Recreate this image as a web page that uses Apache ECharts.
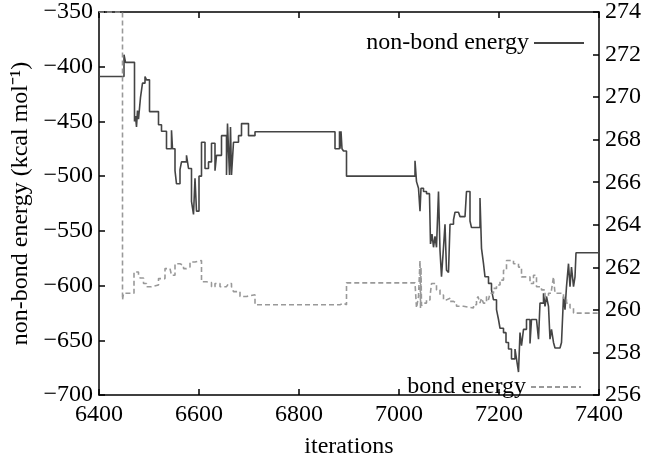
<!DOCTYPE html>
<html>
<head>
<meta charset="utf-8">
<script src="https://cdn.jsdelivr.net/npm/echarts@6/dist/echarts.min.js"></script>
<style>
  html, body { margin: 0; padding: 0; background: #fff; }
  #canvas { width: 646px; height: 464px; }
</style>
</head>
<body>
<div id="canvas"></div>
<script>
// iterations where the non-bond energy changes, and the value it takes
let nonBondIter = [6400, 6450, 6453, 6471, 6473, 6475, 6477, 6479, 6483, 6487, 6492, 6495, 6501, 6519, 6525, 6535, 6545, 6547,
    6552, 6555, 6562, 6565, 6575, 6579, 6585, 6589, 6592, 6595, 6600, 6605, 6612, 6619, 6625, 6632, 6635, 6645, 6655, 6657,
    6659, 6661, 6663, 6665, 6669, 6679, 6685, 6699, 6712, 6872, 6881, 6882, 6884, 6886, 6889, 6895, 7032, 7035, 7039, 7042,
    7044, 7049, 7055, 7061, 7063, 7066, 7069, 7072, 7075, 7079, 7082, 7085, 7089, 7092, 7095, 7099, 7102, 7109, 7112, 7119,
    7122, 7132, 7135, 7142, 7145, 7162, 7165, 7169, 7172, 7179, 7185, 7189, 7195, 7199, 7202, 7209, 7214, 7219, 7225, 7232,
    7235, 7239, 7242, 7245, 7249, 7255, 7262, 7265, 7275, 7279, 7282, 7289, 7292, 7295, 7299, 7302, 7305, 7309, 7312, 7322,
    7325, 7329, 7332, 7335, 7339, 7342, 7345, 7349, 7352, 7354, 7400];
let nonBondValue = [-409, -389, -396, -450, -445, -455, -440, -448, -428, -415, -409, -412, -441, -453, -459, -475, -458, -475,
    -495, -507, -494, -487, -481, -493, -523, -535, -502, -532, -500, -469, -493, -487, -470, -495, -481, -463, -499, -452,
    -451, -499, -455, -499, -469, -463, -452, -463, -459.5, -475, -459, -475, -459, -475, -477, -500, -486, -505, -511, -532,
    -511, -514, -516, -518, -562, -553, -565, -555, -565, -514, -568, -592, -565, -544, -586, -588, -544, -540, -533, -532,
    -537, -538, -514, -541, -547, -520, -566, -580, -592, -598, -604, -613, -622, -631, -639, -643, -652, -658, -667, -658,
    -667, -679, -643, -655, -640, -631, -653, -631, -631, -649, -616, -607, -619, -610, -619, -649, -640, -652, -657, -658,
    -652, -610, -622, -601, -580, -601, -583, -601, -592, -570, -570];

// iterations where the bond energy changes, and the value it takes
let bondIter = [6400, 6447, 6449, 6470, 6479, 6482, 6489, 6495, 6505, 6519, 6532, 6542, 6545, 6552, 6562, 6569, 6575, 6582,
    6592, 6605, 6615, 6625, 6632, 6642, 6655, 6659, 6665, 6669, 6682, 6695, 6712, 6882, 6885, 6889, 6895, 7032, 7035, 7039,
    7042, 7043, 7044, 7045, 7049, 7055, 7062, 7065, 7075, 7082, 7089, 7095, 7102, 7109, 7115, 7129, 7149, 7155, 7158, 7162,
    7165, 7169, 7175, 7179, 7182, 7189, 7195, 7202, 7209, 7215, 7229, 7239, 7245, 7262, 7269, 7275, 7285, 7292, 7299, 7305,
    7309, 7312, 7329, 7335, 7342, 7349, 7400];
let bondValue = [274, 260.47, 260.78, 261.78, 261.63, 261.5, 261.24, 261.09, 261.17, 261.47, 261.94, 261.94, 261.63, 262.17,
    262.09, 261.94, 262.01, 262.25, 262.32, 261.32, 261.28, 261.09, 261.24, 261.09, 261.06, 261.24, 261.09, 260.86, 260.63,
    260.71, 260.24, 260.24, 260.32, 260.24, 261.27, 261.27, 260.09, 260.63, 262.32, 260.09, 262.0, 260.2, 260.32, 260.47,
    260.63, 261.24, 260.94, 260.7, 260.47, 260.55, 260.4, 260.32, 260.17, 260.09, 260.24, 260.47, 260.63, 260.32, 260.55,
    260.32, 260.63, 260.47, 260.78, 261.01, 261.17, 261.4, 261.86, 262.32, 262.17, 262.01, 261.55, 261.24, 261.63, 261.09,
    260.94, 260.63, 260.78, 260.94, 261.55, 260.78, 260.55, 260.32, 260.09, 259.85, 259.85];

let zip = function (xs, ys) {
    return xs.map(function (x, i) { return [x, ys[i]]; });
};
let plain = function (v) { return String(v).replace('-', '\u2212'); };

var font = 'Liberation Serif';
var dom = document.getElementById("canvas");
var myChart = echarts.init(dom);
var axisLine = { show: true, lineStyle: { color: '#000', width: 1.5 } };
var tick = { show: true, inside: true, length: 6, lineStyle: { color: '#000', width: 1.5 } };
var label = { color: '#000', fontFamily: font, fontSize: 24, formatter: plain };
var legendText = { color: '#000', fontFamily: font, fontSize: 24 };

option = {
    animation: false,
    textStyle: { fontFamily: font },
    grid: { left: 99, right: 47, top: 11, bottom: 64 },
    legend: [
        {
            data: ['non-bond energy'],
            right: 56, top: 26,
            align: 'right',
            itemWidth: 50, itemHeight: 14,
            selectedMode: false,
            itemStyle: { opacity: 0 },
            textStyle: legendText
        },
        {
            data: ['bond energy'],
            right: 59, top: 370,
            align: 'right',
            itemWidth: 50, itemHeight: 14,
            selectedMode: false,
            itemStyle: { opacity: 0 },
            textStyle: legendText
        }
    ],
    xAxis: [
        {
            type: 'value', min: 6400, max: 7400, interval: 200,
            name: 'iterations', nameLocation: 'middle', nameGap: 40,
            nameTextStyle: { color: '#000', fontFamily: font, fontSize: 24 },
            axisLine: axisLine, axisTick: tick,
            axisLabel: Object.assign({ margin: 8 }, label),
            splitLine: { show: false }
        },
        {
            type: 'value', min: 6400, max: 7400, interval: 200, position: 'top',
            axisLine: axisLine, axisTick: tick,
            axisLabel: { show: false },
            splitLine: { show: false }
        }
    ],
    yAxis: [
        {
            type: 'value', min: -700, max: -350, interval: 50,
            name: 'non-bond energy (kcal mol\u207B\u00B9)', nameLocation: 'middle', nameGap: 64,
            nameTextStyle: { color: '#000', fontFamily: font, fontSize: 24 },
            axisLine: axisLine, axisTick: tick,
            axisLabel: Object.assign({ margin: 6 }, label),
            splitLine: { show: false }
        },
        {
            type: 'value', min: 256, max: 274, interval: 2, position: 'right',
            axisLine: axisLine, axisTick: tick,
            axisLabel: Object.assign({ margin: 6 }, label),
            splitLine: { show: false }
        }
    ],
    series: [
        {
            name: 'non-bond energy',
            type: 'line',
            step: 'end',
            xAxisIndex: 0, yAxisIndex: 0,
            symbol: 'none',
            color: '#444',
            lineStyle: { color: '#444', width: 1.6 },
            data: zip(nonBondIter, nonBondValue)
        },
        {
            name: 'bond energy',
            type: 'line',
            step: 'end',
            xAxisIndex: 0, yAxisIndex: 1,
            symbol: 'none',
            color: '#999',
            lineStyle: { color: '#999', width: 1.6, type: [5, 3] },
            data: zip(bondIter, bondValue)
        }
    ]
};
if (option && typeof option === "object") {
    myChart.setOption(option, true);
}
</script>
</body>
</html>
